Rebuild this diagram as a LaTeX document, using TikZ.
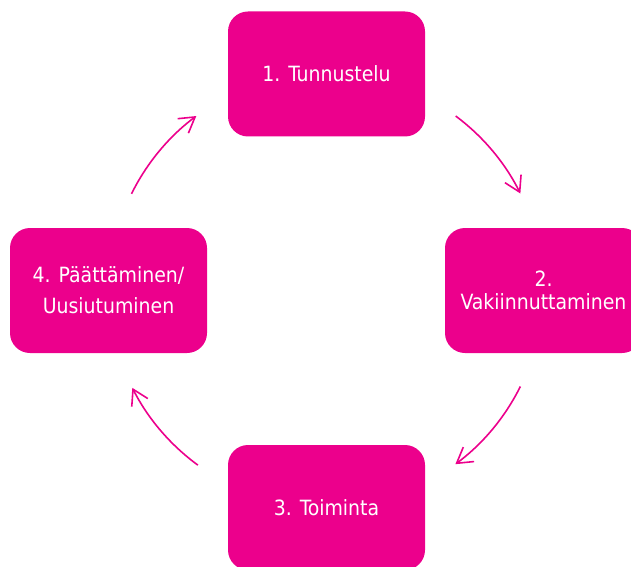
\documentclass[tikz,border=0pt]{standalone}
\usepackage{fontspec}
\setmainfont{DejaVu Sans Condensed}
\usetikzlibrary{arrows.meta,calc}
\definecolor{mag}{HTML}{EC008C}
\begin{document}
\begin{tikzpicture}[x=1pt,y=1pt,
  stagebox/.style={fill=mag, draw=none, rounded corners=20pt, minimum width=197pt, minimum height=125pt,
    text=white, align=center, font=\fontsize{21}{31}\selectfont, inner sep=0pt},
  arr/.style={draw=mag, line width=1.6pt, -{Straight Barb[length=15pt,width=18pt,line width=1.6pt]}}]
\clip (0,0) rectangle (631,566);
\useasboundingbox (0,0) rectangle (631,566);
\node[stagebox] (s1) at (326.5,492) {1. Tunnustelu};
\node[stagebox, font=\fontsize{21}{23}\selectfont] (s2) at (543.5,275.5) {2.\\Vakiinnuttaminen};
\node[stagebox] (s3) at (326.5,58.5) {3. Toiminta};
\node[stagebox] (s4) at (108.5,275.5) {4. Päättäminen/\\Uusiutuminen};
\coordinate (c) at (326,276);
\coordinate (a12) at ($(c)+(53.3:217)$);
\coordinate (a23) at ($(c)+(-26.4:217)$);
\coordinate (a34) at ($(c)+(233.8:217)$);
\coordinate (a41) at ($(c)+(153.7:217)$);
\draw[arr] (a12) arc[start angle=53.3, end angle=26.4, radius=217];
\draw[arr] (a23) arc[start angle=-26.4, end angle=-53.4, radius=217];
\draw[arr] (a34) arc[start angle=233.8, end angle=206.8, radius=217];
\draw[arr] (a41) arc[start angle=153.7, end angle=126.7, radius=217];
\end{tikzpicture}
\end{document}
